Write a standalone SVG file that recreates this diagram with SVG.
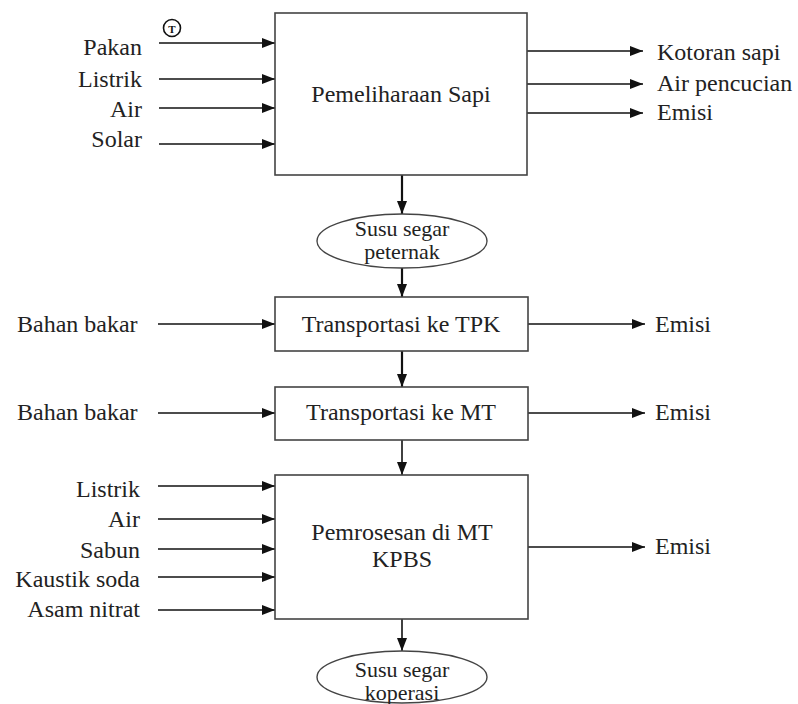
<svg xmlns="http://www.w3.org/2000/svg" width="798" height="704" viewBox="0 0 798 704" font-family="'Liberation Serif', serif">
<defs>
<marker id="ah" viewBox="0 0 13 10" refX="13" refY="5" markerWidth="13" markerHeight="10" markerUnits="userSpaceOnUse" orient="auto">
<path d="M0,0 L13,5 L0,10 z" fill="#111"/>
</marker>
</defs>
<style>
text{font-family:'Liberation Serif','Times New Roman',serif;font-size:24px;fill:#222;}
.r{text-anchor:end;}
.m{text-anchor:middle;}
.e{font-size:22px;}
.box{fill:#fff;stroke:#444;stroke-width:1.6;}
.ell{fill:#fff;stroke:#444;stroke-width:1.4;}
.c line{stroke:#111;stroke-width:1.6;marker-end:url(#ah);}
.c .v{stroke-width:2.2;}
</style>
<rect width="798" height="704" fill="#fff"/>

<g id="connectors" class="c">
<line x1="159" y1="43" x2="275" y2="43"/>
<line x1="159" y1="79" x2="275" y2="79"/>
<line x1="159" y1="108" x2="275" y2="108"/>
<line x1="159" y1="144" x2="275" y2="144"/>
<line x1="527" y1="51" x2="643" y2="51"/>
<line x1="527" y1="84" x2="643" y2="84"/>
<line x1="527" y1="113" x2="643" y2="113"/>
<line class="v" x1="402" y1="175" x2="402" y2="214"/>
<line class="v" x1="402" y1="268" x2="402" y2="297"/>
<line x1="158" y1="324" x2="275" y2="324"/>
<line x1="528" y1="324" x2="645" y2="324"/>
<line class="v" x1="402" y1="351" x2="402" y2="387"/>
<line x1="158" y1="413" x2="275" y2="413"/>
<line x1="528" y1="413" x2="645" y2="413"/>
<line x1="402" y1="440" x2="402" y2="475"/>
<line x1="158" y1="486" x2="275" y2="486"/>
<line x1="158" y1="519" x2="275" y2="519"/>
<line x1="158" y1="549" x2="275" y2="549"/>
<line x1="158" y1="577" x2="275" y2="577"/>
<line x1="158" y1="610" x2="275" y2="610"/>
<line x1="528" y1="547" x2="645" y2="547"/>
<line x1="402" y1="619" x2="402" y2="651"/>
</g>

<g id="labels-in1">
<text class="r" x="142" y="55">Pakan</text>
<text class="r" x="142" y="87">Listrik</text>
<text class="r" x="142" y="117">Air</text>
<text class="r" x="142" y="147">Solar</text>
</g>
<g id="tmark">
<circle cx="172" cy="28" r="8.5" fill="#fff" stroke="#111" stroke-width="1.6"/>
<text class="m" x="172" y="32.5" style="font-size:11px;font-weight:bold;fill:#111">T</text>
</g>

<g id="n-pemeliharaan">
<rect class="box" x="275" y="13" width="252" height="162"/>
<text class="m" x="401" y="102">Pemeliharaan Sapi</text>
</g>
<g id="labels-out1">
<text x="657" y="60">Kotoran sapi</text>
<text x="657" y="91">Air pencucian</text>
<text x="657" y="120">Emisi</text>
</g>

<g id="n-susu-peternak">
<ellipse class="ell" cx="402" cy="241" rx="85" ry="27"/>
<text class="m e" x="402" y="236">Susu segar</text>
<text class="m e" x="402" y="259">peternak</text>
</g>

<g id="n-tpk">
<rect class="box" x="275" y="297" width="253" height="54"/>
<text class="m" x="401" y="332">Transportasi ke TPK</text>
</g>
<g id="labels-tpk">
<text x="17" y="332">Bahan bakar</text>
<text x="655" y="332">Emisi</text>
</g>

<g id="n-mt">
<rect class="box" x="275" y="387" width="253" height="53"/>
<text class="m" x="401" y="420">Transportasi ke MT</text>
</g>
<g id="labels-mt">
<text x="17" y="420">Bahan bakar</text>
<text x="655" y="420">Emisi</text>
</g>

<g id="n-pemrosesan">
<rect class="box" x="275" y="475" width="253" height="144"/>
<text class="m" x="402" y="540">Pemrosesan di MT</text>
<text class="m" x="402" y="567">KPBS</text>
</g>
<g id="labels-in3">
<text class="r" x="140" y="497">Listrik</text>
<text class="r" x="140" y="527">Air</text>
<text class="r" x="140" y="558">Sabun</text>
<text class="r" x="140" y="587">Kaustik soda</text>
<text class="r" x="140" y="617">Asam nitrat</text>
<text x="655" y="554">Emisi</text>
</g>

<g id="n-susu-koperasi">
<ellipse class="ell" cx="402" cy="677" rx="85" ry="26"/>
<text class="m e" x="402" y="677">Susu segar</text>
<text class="m e" x="402" y="700">koperasi</text>
</g>
</svg>
